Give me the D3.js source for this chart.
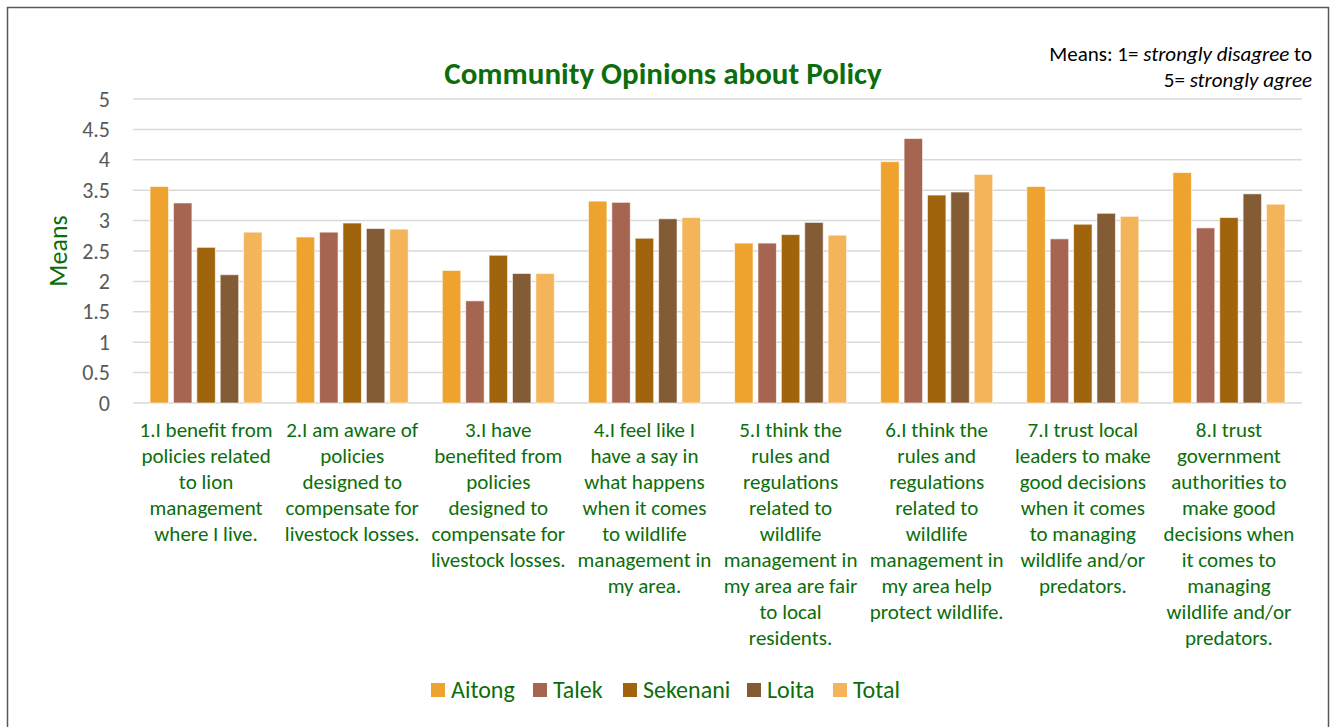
<!DOCTYPE html>
<html>
<head>
<meta charset="utf-8">
<script src="https://cdn.jsdelivr.net/npm/d3@7"></script>
<style>
  body { margin: 0; background: #fff; }
  svg { display: block; font-family: Carlito, Calibri, Lato, sans-serif; }
</style>
</head>
<body>
<div id="chart"></div>
<script>
// categories (survey statements), line breaks as in the original
const categories = [
  "1.I benefit from\npolicies related\nto lion\nmanagement\nwhere I live.",
  "2.I am aware of\npolicies\ndesigned to\ncompensate for\nlivestock losses.",
  "3.I have\nbenefited from\npolicies\ndesigned to\ncompensate for\nlivestock losses.",
  "4.I feel like I\nhave a say in\nwhat happens\nwhen it comes\nto wildlife\nmanagement in\nmy area.",
  "5.I think the\nrules and\nregulations\nrelated to\nwildlife\nmanagement in\nmy area are fair\nto local\nresidents.",
  "6.I think the\nrules and\nregulations\nrelated to\nwildlife\nmanagement in\nmy area help\nprotect wildlife.",
  "7.I trust local\nleaders to make\ngood decisions\nwhen it comes\nto managing\nwildlife and/or\npredators.",
  "8.I trust\ngovernment\nauthorities to\nmake good\ndecisions when\nit comes to\nmanaging\nwildlife and/or\npredators."
];

const seriesNames = ["Aitong", "Talek", "Sekenani", "Loita", "Total"];
const seriesColors = ["#EEA32E", "#A66550", "#A0640C", "#835B35", "#F4B459"];

const aitong   = [3.56, 2.73, 2.18, 3.32, 2.63, 3.97, 3.56, 3.79];
const talek    = [3.29, 2.81, 1.68, 3.30, 2.63, 4.35, 2.70, 2.88];
const sekenani = [2.56, 2.96, 2.43, 2.71, 2.77, 3.42, 2.94, 3.05];
const loita    = [2.11, 2.87, 2.13, 3.03, 2.97, 3.47, 3.12, 3.44];
const total    = [2.81, 2.86, 2.13, 3.05, 2.76, 3.76, 3.07, 3.27];
const seriesValues = [aitong, talek, sekenani, loita, total];

const yTicks = [0, 0.5, 1, 1.5, 2, 2.5, 3, 3.5, 4, 4.5, 5];

const W = 1338, H = 727;
const green = "#0B6E0B";
const margin = { left: 133, right: 36, top: 99, bottom: 324 };

const svg = d3.select("#chart").append("svg")
  .attr("width", W).attr("height", H);

// chart frame
svg.append("rect")
  .attr("x", 7.5).attr("y", 7.5)
  .attr("width", 1321).attr("height", 730)
  .attr("fill", "#fff").attr("stroke", "#595959").attr("stroke-width", 1.5);

const x0 = d3.scaleBand()
  .domain(d3.range(categories.length))
  .range([margin.left, W - margin.right]);

const x1 = d3.scaleBand()
  .domain(d3.range(seriesNames.length))
  .range([0, 112])
  .paddingInner(0.21);

const y = d3.scaleLinear()
  .domain([0, 5])
  .range([H - margin.bottom, margin.top]);

// gridlines
svg.append("g")
  .selectAll("line")
  .data(yTicks)
  .join("line")
  .attr("x1", margin.left).attr("x2", W - margin.right)
  .attr("y1", d => y(d)).attr("y2", d => y(d))
  .attr("stroke", "#d9d9d9").attr("stroke-width", 1.5);

// y axis labels
const yAxis = d3.axisLeft(y).tickValues(yTicks).tickSize(0).tickPadding(0)
  .tickFormat(d3.format(""));
svg.append("g")
  .attr("transform", `translate(${margin.left - 23},0)`)
  .call(yAxis)
  .call(g => g.select(".domain").remove())
  .selectAll("text")
  .attr("font-family", "Carlito, Calibri, Lato, sans-serif")
  .attr("font-size", 22)
  .attr("fill", "#595959");

// bars
const groups = svg.append("g")
  .selectAll("g")
  .data(categories.map((c, i) => i))
  .join("g")
  .attr("transform", i => `translate(${x0(i) + (x0.bandwidth() - 112) / 2},0)`);

groups.selectAll("rect")
  .data(i => seriesValues.map((vals, s) => ({ s, v: vals[i] })))
  .join("rect")
  .attr("x", d => x1(d.s))
  .attr("width", x1.bandwidth())
  .attr("y", d => y(d.v))
  .attr("height", d => y(0) - y(d.v))
  .attr("fill", d => seriesColors[d.s])
  .attr("stroke", "#fff")
  .attr("stroke-opacity", 0.6)
  .attr("stroke-width", 1);

// category labels
const catLabels = svg.append("g")
  .selectAll("text")
  .data(categories)
  .join("text")
  .attr("text-anchor", "middle")
  .attr("fill", green)
  .attr("font-size", 21)
  .attr("transform", (d, i) => `translate(${x0(i) + x0.bandwidth() / 2},437)`);

catLabels.selectAll("tspan")
  .data(d => d.split("\n"))
  .join("tspan")
  .attr("x", 0)
  .attr("y", (d, i) => i * 26)
  .text(d => d);

// title
svg.append("text")
  .attr("x", 663).attr("y", 84)
  .attr("text-anchor", "middle")
  .attr("font-size", 31)
  .attr("font-weight", "bold")
  .attr("fill", green)
  .text("Community Opinions about Policy");

// y axis title
svg.append("text")
  .attr("transform", "translate(67,251) rotate(-90)")
  .attr("text-anchor", "middle")
  .attr("font-size", 26)
  .attr("fill", green)
  .text("Means");

// note at top right
const note = svg.append("text")
  .attr("text-anchor", "end")
  .attr("font-size", 21)
  .attr("fill", "#000");
const l1 = note.append("tspan").attr("x", 1312).attr("y", 61);
l1.append("tspan").text("Means: 1= ");
l1.append("tspan").attr("font-style", "italic").text("strongly disagree");
l1.append("tspan").text(" to");
const l2 = note.append("tspan").attr("x", 1312).attr("y", 87);
l2.append("tspan").text("5= ");
l2.append("tspan").attr("font-style", "italic").text("strongly agree");

// legend
const legendX = [431, 533, 623, 747, 833];
const legend = svg.append("g")
  .selectAll("g")
  .data(seriesNames)
  .join("g")
  .attr("transform", (d, i) => `translate(${legendX[i]},683)`);
legend.append("rect")
  .attr("width", 14).attr("height", 14)
  .attr("fill", (d, i) => seriesColors[i]);
legend.append("text")
  .attr("x", 20).attr("y", 15)
  .attr("font-size", 24)
  .attr("fill", green)
  .text(d => d);
</script>
</body>
</html>
